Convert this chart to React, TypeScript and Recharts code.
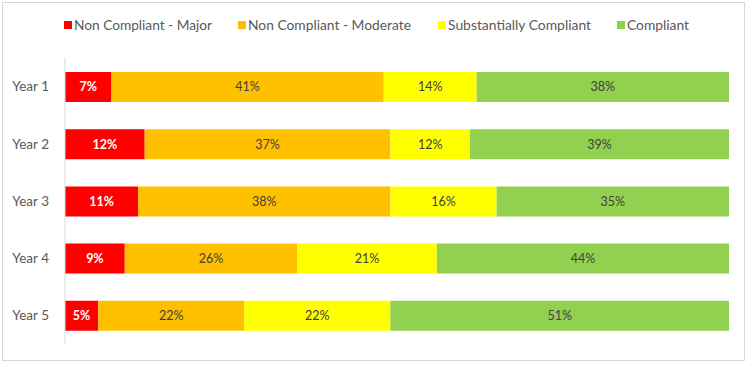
import React from 'react';
import { BarChart, Bar, XAxis, YAxis, LabelList } from 'recharts';

const categories = ['Year 1', 'Year 2', 'Year 3', 'Year 4', 'Year 5'];
const major = [7, 12, 11, 9, 5];
const moderate = [41, 37, 38, 26, 22];
const substantial = [14, 12, 16, 21, 22];
const compliant = [38, 39, 35, 44, 51];

const seriesNames = ['Non Compliant - Major', 'Non Compliant - Moderate', 'Substantially Compliant', 'Compliant'];
const seriesKeys = ['major', 'moderate', 'substantial', 'compliant'];
const seriesColors = ['#FF0000', '#FFC000', '#FFFF00', '#92D050'];

const data = categories.map((name, i) => ({
  name,
  major: major[i],
  moderate: moderate[i],
  substantial: substantial[i],
  compliant: compliant[i],
}));

const LFONT = 'Lato, "Open Sans", sans-serif';
const legendX = [64, 238, 438, 617];
const legendTextW = [138, 163, 143, 62];

const ChartLegend = () => (
  <svg width={750} height={40} style={{ position: 'absolute', left: 0, top: 5 }}>
    {seriesNames.map((n, i) => (
      <g key={n}>
        <rect x={legendX[i]} y={16} width={8} height={8} fill={seriesColors[i]} />
        <text
          x={legendX[i] + 10}
          y={25}
          textLength={legendTextW[i]}
          lengthAdjust="spacingAndGlyphs"
          fill="#595959"
          fontSize={14}
          fontFamily={LFONT}
        >
          {n}
        </text>
      </g>
    ))}
  </svg>
);

export default function App() {
  return (
    <div style={{ position: 'absolute', left: 0, top: 0, width: 750, height: 365, background: '#fff' }}>
      <div
        style={{
          position: 'absolute',
          left: 2,
          top: 2,
          width: 743,
          height: 359,
          border: '1px solid #d9d9d9',
          boxSizing: 'border-box',
        }}
      />
      <ChartLegend />
      <BarChart
        width={750}
        height={365}
        data={data}
        layout="vertical"
        margin={{ top: 58, right: 21, bottom: 21, left: 5 }}
        barSize={30}
        style={{ position: 'absolute', left: 0, top: 0 }}
      >
        <XAxis type="number" domain={[0, 100]} hide />
        <YAxis
          type="category"
          dataKey="name"
          width={60}
          axisLine={{ stroke: '#d9d9d9' }}
          tickLine={false}
          tickMargin={10}
          tick={{ fill: '#595959', fontSize: 13.5, fontFamily: LFONT }}
        />
        {seriesKeys.map((k, i) => (
          <Bar key={k} dataKey={k} stackId="a" fill={seriesColors[i]} isAnimationActive={false}>
            <LabelList
              dataKey={k}
              position="center"
              formatter={(v: any) => `${v}%`}
              fill={i === 0 ? '#ffffff' : '#404040'}
              style={{ fontFamily: LFONT, fontSize: 12.5, fontWeight: i === 0 ? 700 : 400 }}
            />
          </Bar>
        ))}
      </BarChart>
    </div>
  );
}
